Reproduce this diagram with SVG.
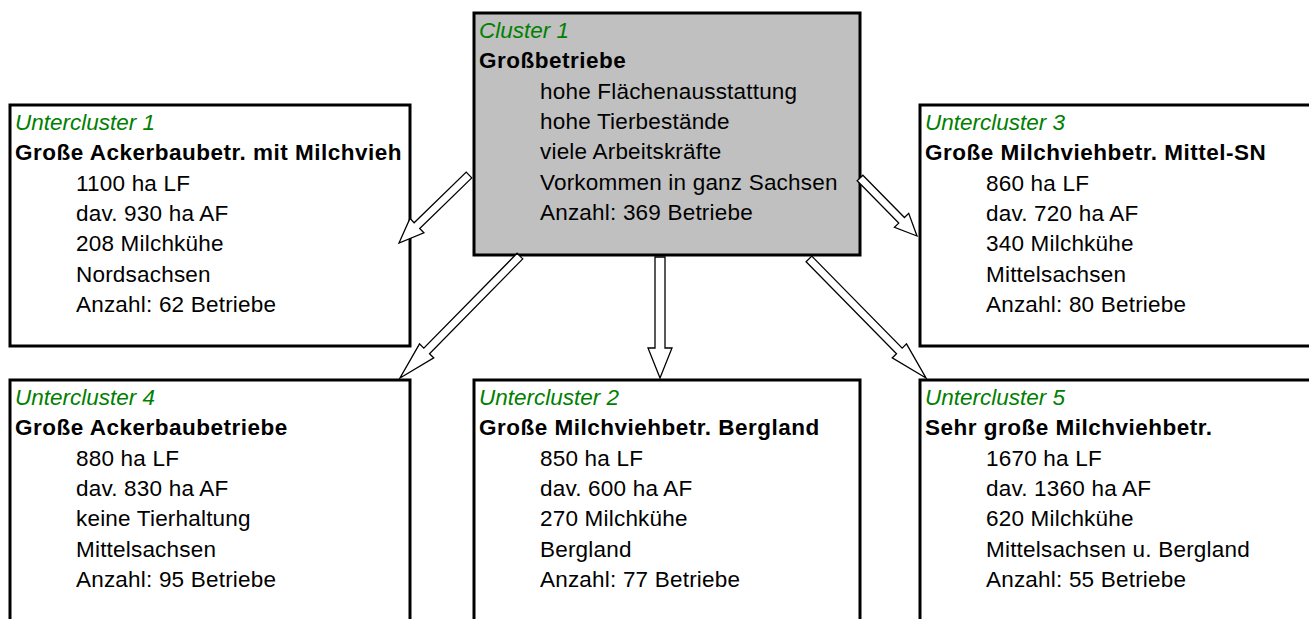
<svg xmlns="http://www.w3.org/2000/svg" width="1309" height="619" viewBox="0 0 1309 619">
<style>
.box{fill:#ffffff;stroke:#000000;stroke-width:3}
.main{fill:#c0c0c0}
.t{font-family:"Liberation Sans",Arial,sans-serif;font-size:22.5px;fill:#000000;letter-spacing:0.2px}
.h{font-style:italic;fill:#008000;letter-spacing:0}
.b{font-weight:bold;letter-spacing:0.5px}
.arr{fill:#ffffff;stroke:#000000;stroke-width:1.3;stroke-linejoin:miter}
</style>
<rect width="1309" height="619" fill="#ffffff"/>
<g id="cluster1">
<rect class="box main" x="474" y="13" width="386" height="242"/>
<text class="t h" x="479" y="38">Cluster 1</text>
<text class="t b" x="479" y="68">Großbetriebe</text>
<text class="t" x="540" y="99">hohe Flächenausstattung</text>
<text class="t" x="540" y="129">hohe Tierbestände</text>
<text class="t" x="540" y="159">viele Arbeitskräfte</text>
<text class="t" x="540" y="190">Vorkommen in ganz Sachsen</text>
<text class="t" x="540" y="220">Anzahl: 369 Betriebe</text>
</g>
<g id="untercluster1">
<rect class="box" x="10" y="105" width="400" height="241"/>
<text class="t h" x="15" y="130">Untercluster 1</text>
<text class="t b" x="15" y="160">Große Ackerbaubetr. mit Milchvieh</text>
<text class="t" x="76" y="191">1100 ha LF</text>
<text class="t" x="76" y="221">dav. 930 ha AF</text>
<text class="t" x="76" y="251">208 Milchkühe</text>
<text class="t" x="76" y="282">Nordsachsen</text>
<text class="t" x="76" y="312">Anzahl: 62 Betriebe</text>
</g>
<g id="untercluster3">
<rect class="box" x="920" y="105" width="400" height="241"/>
<text class="t h" x="925" y="130">Untercluster 3</text>
<text class="t b" x="925" y="160">Große Milchviehbetr. Mittel-SN</text>
<text class="t" x="986" y="191">860 ha LF</text>
<text class="t" x="986" y="221">dav. 720 ha AF</text>
<text class="t" x="986" y="251">340 Milchkühe</text>
<text class="t" x="986" y="282">Mittelsachsen</text>
<text class="t" x="986" y="312">Anzahl: 80 Betriebe</text>
</g>
<g id="untercluster4">
<rect class="box" x="10" y="380" width="400" height="260"/>
<text class="t h" x="15" y="405">Untercluster 4</text>
<text class="t b" x="15" y="435">Große Ackerbaubetriebe</text>
<text class="t" x="76" y="466">880 ha LF</text>
<text class="t" x="76" y="496">dav. 830 ha AF</text>
<text class="t" x="76" y="526">keine Tierhaltung</text>
<text class="t" x="76" y="557">Mittelsachsen</text>
<text class="t" x="76" y="587">Anzahl: 95 Betriebe</text>
</g>
<g id="untercluster2">
<rect class="box" x="474" y="380" width="386" height="260"/>
<text class="t h" x="479" y="405">Untercluster 2</text>
<text class="t b" x="479" y="435">Große Milchviehbetr. Bergland</text>
<text class="t" x="540" y="466">850 ha LF</text>
<text class="t" x="540" y="496">dav. 600 ha AF</text>
<text class="t" x="540" y="526">270 Milchkühe</text>
<text class="t" x="540" y="557">Bergland</text>
<text class="t" x="540" y="587">Anzahl: 77 Betriebe</text>
</g>
<g id="untercluster5">
<rect class="box" x="920" y="380" width="400" height="260"/>
<text class="t h" x="925" y="405">Untercluster 5</text>
<text class="t b" x="925" y="435">Sehr große Milchviehbetr.</text>
<text class="t" x="986" y="466">1670 ha LF</text>
<text class="t" x="986" y="496">dav. 1360 ha AF</text>
<text class="t" x="986" y="526">620 Milchkühe</text>
<text class="t" x="986" y="557">Mittelsachsen u. Bergland</text>
<text class="t" x="986" y="587">Anzahl: 55 Betriebe</text>
</g>
<g id="connectors">
<polygon class="arr" transform="translate(660,378) rotate(90)" points="-121,-5 -30,-5 -30,-12 0,0 -30,12 -30,5 -121,5"/>
<polygon class="arr" transform="translate(400,378) rotate(134.53)" points="-171,-4 -38,-4 -38,-10 0,0 -38,10 -38,4 -171,4"/>
<polygon class="arr" transform="translate(926,378) rotate(45.49)" points="-167,-4 -38,-4 -38,-10 0,0 -38,10 -38,4 -167,4"/>
<polygon class="arr" transform="translate(399,243) rotate(135.83)" points="-97.6,-4 -25,-4 -25,-10 0,0 -25,10 -25,4 -97.6,4"/>
<polygon class="arr" transform="translate(917,236) rotate(45.5)" points="-81.3,-4 -22,-4 -22,-10 0,0 -22,10 -22,4 -81.3,4"/>
</g>
</svg>
